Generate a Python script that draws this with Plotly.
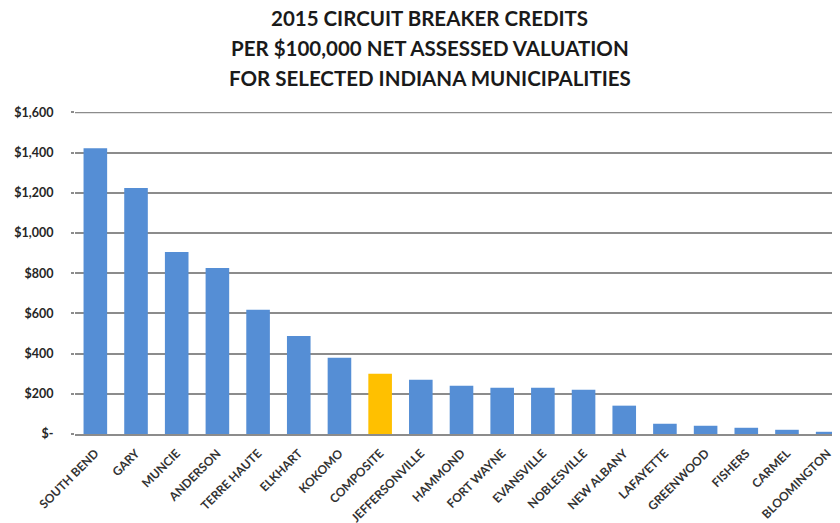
import plotly.graph_objects as go

categories = ["SOUTH BEND", "GARY", "MUNCIE", "ANDERSON", "TERRE HAUTE", "ELKHART",
              "KOKOMO", "COMPOSITE", "JEFFERSONVILLE", "HAMMOND", "FORT WAYNE",
              "EVANSVILLE", "NOBLESVILLE", "NEW ALBANY", "LAFAYETTE", "GREENWOOD",
              "FISHERS", "CARMEL", "BLOOMINGTON"]
values = [1422, 1224, 906, 826, 618, 488, 379, 300, 270, 240, 230, 230, 220,
          141, 51, 41, 31, 21, 11]
ytick_vals = [0, 200, 400, 600, 800, 1000, 1200, 1400, 1600]
ytick_text = ["$-", "$200", "$400", "$600", "$800", "$1,000", "$1,200", "$1,400", "$1,600"]
title_lines = ["2015 CIRCUIT BREAKER CREDITS",
               "PER $100,000 NET ASSESSED VALUATION",
               "FOR SELECTED INDIANA MUNICIPALITIES"]

BLUE = "#558ED5"
GOLD = "#FFC000"
GRID = "#8c8c8c"
colors = [GOLD if c == "COMPOSITE" else BLUE for c in categories]

fig = go.Figure()
fig.add_trace(go.Bar(
    x=categories, y=values,
    marker=dict(color=colors, line=dict(width=0)),
    width=0.58,
))

title_y = [1.292, 1.199, 1.106]
for txt, yy in zip(title_lines, title_y):
    fig.add_annotation(
        text="<b>" + txt + "</b>", xref="paper", yref="paper",
        x=0.459, y=yy, xanchor="center", yanchor="middle", showarrow=False,
        font=dict(family="Lato, Open Sans, sans-serif", size=20.5, color="#1a1a1a"),
    )

# top gridline (plotly omits the grid line at the range edge)
fig.add_shape(type="line", xref="paper", yref="y", x0=0, x1=1,
              y0=ytick_vals[-1], y1=ytick_vals[-1],
              line=dict(color=GRID, width=1.5), layer="below")

fig.update_layout(
    width=840, height=523,
    margin=dict(l=67, r=0, t=104, b=97),
    paper_bgcolor="white", plot_bgcolor="white",
    showlegend=False,
    font=dict(family="Lato, Open Sans, sans-serif", color="#404040"),
    xaxis=dict(
        type="category",
        range=[-0.5, 18.5],
        tickangle=-45,
        tickfont=dict(size=12, color="#333333", family="Lato, sans-serif", weight="bold"),
        showgrid=False,
        showline=True, linecolor=GRID, linewidth=1.5,
        ticks="",
        ticklabelstandoff=6,
        automargin=False,
    ),
    yaxis=dict(
        range=[0, 1602],
        tickvals=ytick_vals, ticktext=ytick_text,
        tickfont=dict(size=12.5, color="#262626", family="Lato, sans-serif", weight="bold"),
        showgrid=True, gridcolor=GRID, gridwidth=1.5,
        zeroline=False,
        showline=False,
        ticks="outside", ticklen=3, tickcolor=GRID, tickwidth=1.5,
        ticklabelstandoff=15,
        automargin=False,
    ),
    bargap=0.42,
)

fig.write_html("out.html")
